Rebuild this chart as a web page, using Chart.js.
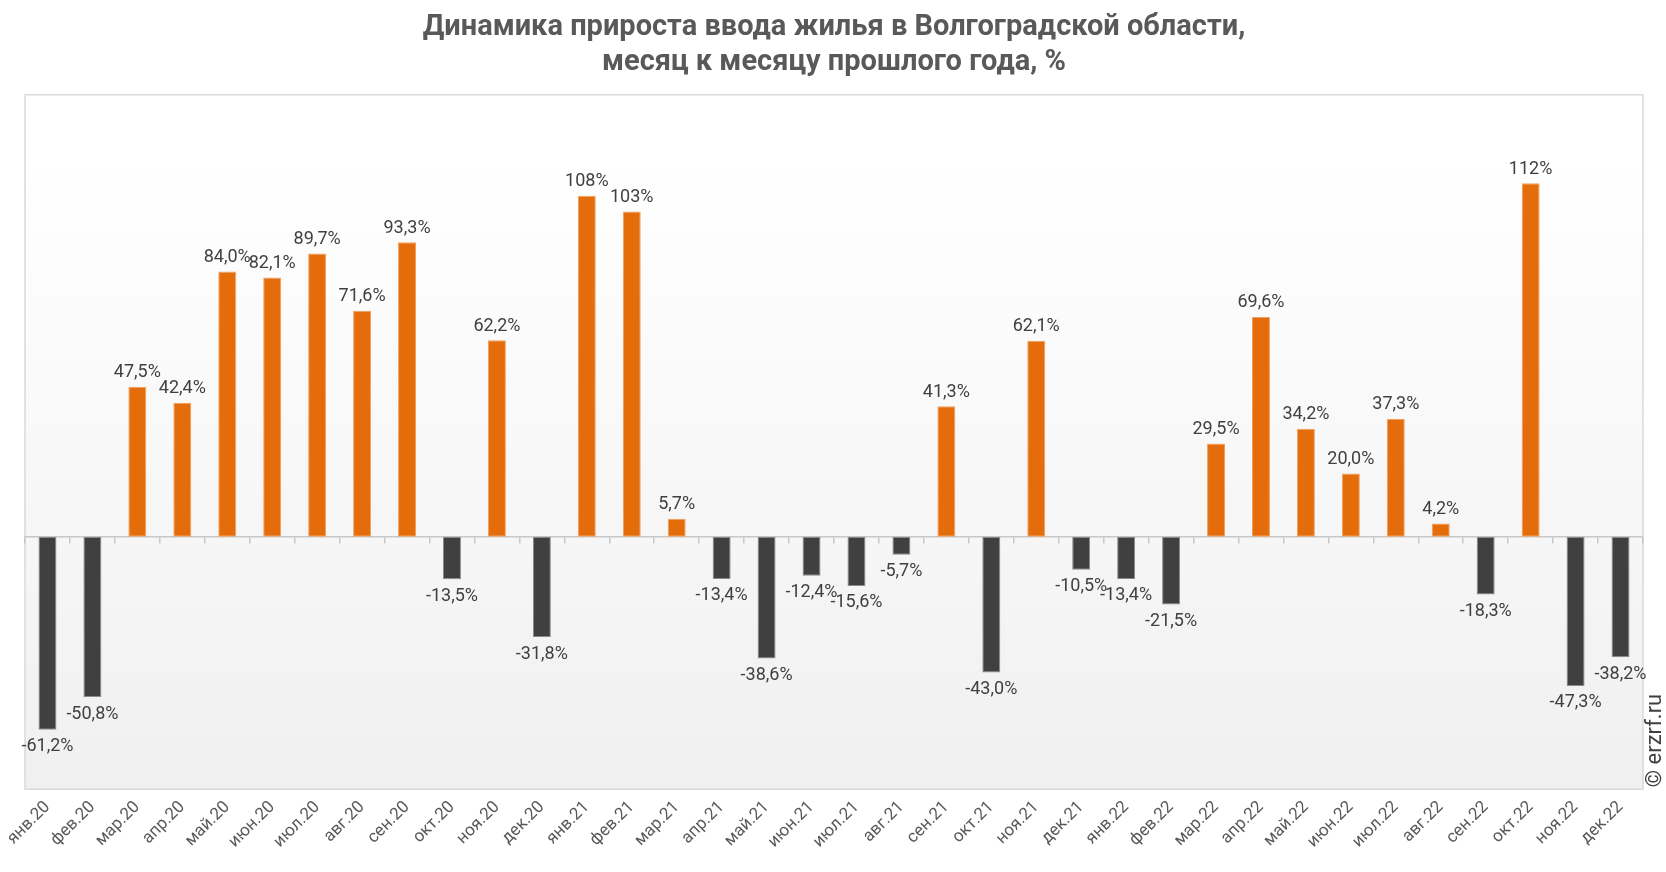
<!DOCTYPE html>
<html>
<head>
<meta charset="utf-8">
<script src="https://cdn.jsdelivr.net/npm/chart.js@4/dist/chart.umd.min.js"></script>
<style>
  html, body { margin: 0; padding: 0; background: #fff; }
  #wrap { width: 1666px; height: 872px; }
</style>
</head>
<body>
<div id="wrap"><canvas id="myChart"></canvas></div>
<script>
// months (x axis)
const months = [
    'янв.20', 'фев.20', 'мар.20', 'апр.20', 'май.20', 'июн.20', 'июл.20', 'авг.20', 'сен.20', 'окт.20', 'ноя.20', 'дек.20',
    'янв.21', 'фев.21', 'мар.21', 'апр.21', 'май.21', 'июн.21', 'июл.21', 'авг.21', 'сен.21', 'окт.21', 'ноя.21', 'дек.21',
    'янв.22', 'фев.22', 'мар.22', 'апр.22', 'май.22', 'июн.22', 'июл.22', 'авг.22', 'сен.22', 'окт.22', 'ноя.22', 'дек.22'
];

// growth vs same month of previous year, %
const growth = [
    -61.2, -50.8, 47.5, 42.4, 84.0, 82.1, 89.7, 71.6, 93.3, -13.5, 62.2, -31.8,
    108, 103, 5.7, -13.4, -38.6, -12.4, -15.6, -5.7, 41.3, -43.0, 62.1, -10.5,
    -13.4, -21.5, 29.5, 69.6, 34.2, 20.0, 37.3, 4.2, -18.3, 112, -47.3, -38.2
];

const titleLines = ['Динамика прироста ввода жилья в Волгоградской области,', 'месяц к месяцу прошлого года, %'];
const watermark = '© erzrf.ru';

const ORANGE = '#e46c0a';
const DARK = '#404040';

function fmt(v) {
    if (Math.abs(v) >= 100) return Math.round(v) + '%';
    return v.toFixed(1).replace('.', ',') + '%';
}

// plot area background + frame
const plotBg = {
    id: 'plotBg',
    beforeDraw(chart) {
        const { ctx, chartArea: a } = chart;
        const g = ctx.createLinearGradient(0, a.top, 0, a.bottom);
        g.addColorStop(0, '#ffffff');
        g.addColorStop(0.1, '#ffffff');
        g.addColorStop(1, '#f0f0f0');
        ctx.save();
        ctx.fillStyle = g;
        ctx.fillRect(a.left, a.top, a.right - a.left, a.bottom - a.top);
        ctx.strokeStyle = '#d9d9d9';
        ctx.lineWidth = 1.5;
        ctx.strokeRect(a.left, a.top, a.right - a.left, a.bottom - a.top);
        ctx.restore();
    }
};

// value labels over / under bars
const valueLabels = {
    id: 'valueLabels',
    afterDatasetsDraw(chart) {
        const ctx = chart.ctx;
        const meta = chart.getDatasetMeta(0);
        ctx.save();
        ctx.font = '18px Roboto';
        ctx.fillStyle = '#404040';
        ctx.textAlign = 'center';
        meta.data.forEach((bar, i) => {
            const v = growth[i];
            if (v >= 0) {
                ctx.textBaseline = 'bottom';
                ctx.fillText(fmt(v), bar.x, bar.y - 5);
            } else {
                ctx.textBaseline = 'top';
                ctx.fillText(fmt(v), bar.x, bar.y + 8);
            }
        });
        ctx.restore();
    }
};

// copyright, vertical at right edge
const copyright = {
    id: 'copyright',
    afterDraw(chart) {
        const ctx = chart.ctx;
        const a = chart.chartArea;
        ctx.save();
        ctx.translate(a.right + 12, a.bottom);
        ctx.rotate(-Math.PI / 2);
        ctx.font = '22px Roboto';
        ctx.fillStyle = '#404040';
        ctx.textAlign = 'left';
        ctx.textBaseline = 'middle';
        ctx.fillText(watermark, 2, 0);
        ctx.restore();
    }
};

const canvas = document.getElementById('myChart');
const ctx = canvas.getContext('2d');
new Chart(ctx, {
    type: 'bar',
    data: {
        labels: months,
        datasets: [{
            data: growth,
            backgroundColor: growth.map(v => v >= 0 ? ORANGE : DARK),
            borderColor: growth.map(v => v >= 0 ? '#f0a060' : '#8a8a8a'),
            borderWidth: 1,
            borderSkipped: false,
            barPercentage: 0.4,
            categoryPercentage: 1.0
        }]
    },
    options: {
        responsive: true,
        maintainAspectRatio: false,
        animation: false,
        layout: {
            padding: { left: 25, right: 23, top: 0, bottom: 12 }
        },
        scales: {
            x: {
                type: 'category',
                position: 'bottom',
                grid: { display: false, drawTicks: false },
                border: { display: false },
                ticks: {
                    color: '#595959',
                    font: { family: 'Roboto', size: 17 },
                    maxRotation: 45,
                    minRotation: 45,
                    autoSkip: false,
                    padding: 8
                }
            },
            zero: {
                type: 'category',
                axis: 'x',
                position: { y: 0 },
                labels: months,
                offset: true,
                grid: { display: true, drawOnChartArea: false, offset: true, tickLength: 6, color: '#c8c8c8', lineWidth: 1.5 },
                border: { display: true, color: '#c8c8c8', width: 1.5 },
                ticks: { display: false }
            },
            y: {
                display: false,
                min: -80,
                max: 140
            }
        },
        plugins: {
            legend: { display: false },
            tooltip: { enabled: false },
            title: {
                display: true,
                text: titleLines,
                color: '#595959',
                font: { family: 'Roboto', size: 29, weight: 'bold', lineHeight: 1.22 },
                padding: { top: 10, bottom: 14 }
            }
        }
    },
    plugins: [plotBg, valueLabels, copyright]
});
</script>
</body>
</html>
